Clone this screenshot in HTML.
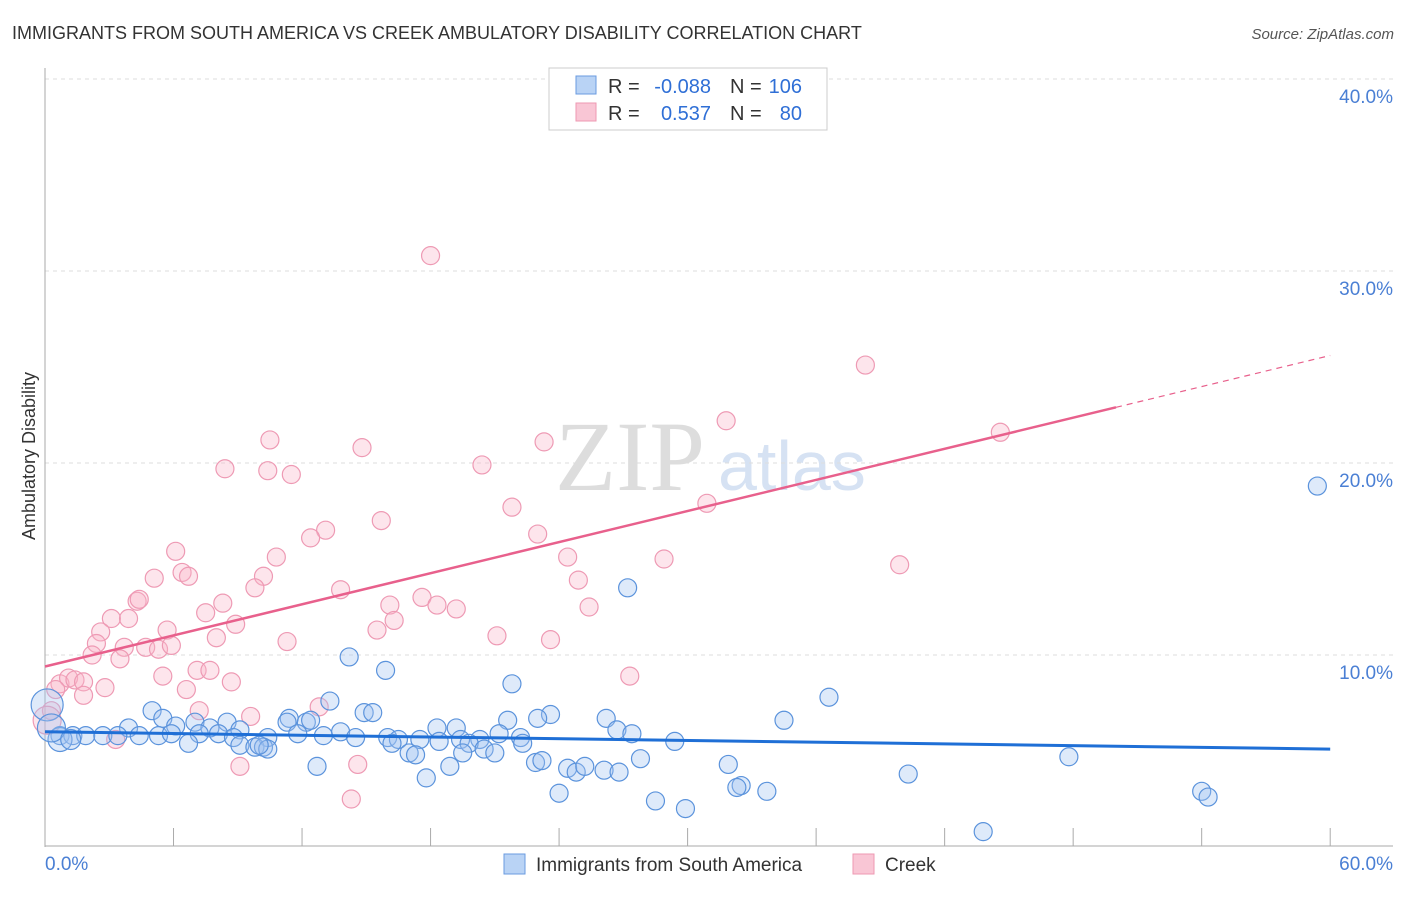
<!DOCTYPE html>
<html><head><meta charset="utf-8"><style>
body{margin:0;background:#fff;font-family:"Liberation Sans",sans-serif;}
svg text{font-family:"Liberation Sans",sans-serif;}
</style></head><body>
<svg width="1406" height="892">
<text x="12" y="39" font-size="18" fill="#333">IMMIGRANTS FROM SOUTH AMERICA VS CREEK AMBULATORY DISABILITY CORRELATION CHART</text>
<text x="1394" y="39" font-size="15" fill="#555" font-style="italic" text-anchor="end">Source: ZipAtlas.com</text>
<text x="35" y="456" font-size="18" fill="#333" transform="rotate(-90 35 456)" text-anchor="middle">Ambulatory Disability</text>
<text x="555" y="490" font-size="100" fill="#ddd" font-family="Liberation Serif" style="font-family:'Liberation Serif',serif">ZIP</text>
<text x="718" y="490" font-size="70" fill="#d6e2f3">atlas</text>
<g id="grid"></g><g id="axes"></g><g id="pts"></g><g id="trend"></g>
<g>
<rect x="549" y="68" width="278" height="62" fill="#fff" stroke="#ccc"/>
<rect x="576" y="76" width="20" height="18" fill="#b9d3f5" stroke="#6a9be0"/>
<rect x="576" y="103" width="20" height="18" fill="#f9c6d5" stroke="#ee98b2"/>
<text x="608" y="93" font-size="20" fill="#333">R =</text>
<text x="711" y="93" font-size="20" fill="#2f6fd6" text-anchor="end">-0.088</text>
<text x="730" y="93" font-size="20" fill="#333">N =</text>
<text x="802" y="93" font-size="20" fill="#2f6fd6" text-anchor="end">106</text>
<text x="608" y="120" font-size="20" fill="#333">R =</text>
<text x="711" y="120" font-size="20" fill="#2f6fd6" text-anchor="end">0.537</text>
<text x="730" y="120" font-size="20" fill="#333">N =</text>
<text x="802" y="120" font-size="20" fill="#2f6fd6" text-anchor="end">80</text>
</g>
<g>
<rect x="504" y="854" width="21" height="20" fill="#b9d3f5" stroke="#6a9be0"/>
<text x="536" y="871" font-size="19" fill="#333">Immigrants from South America</text>
<rect x="853" y="854" width="21" height="20" fill="#f9c6d5" stroke="#ee98b2"/>
<text x="885" y="871" font-size="19" fill="#333">Creek</text>
</g>
</svg>
<script>
const yTicks=[10,20,30,40];
const xTickVals=[0,6,12,18,24,30,36,42,48,54,60];
const blueX=[59.4,27.2,14.2,15.9,21.8,36.6,13.3,5.0,14.9,15.3,5.5,11.4,11.3,12.2,12.4,23.6,23.0,26.2,34.5,21.6,7.0,8.5,18.3,19.2,3.9,26.7,27.4,21.2,6.1,7.7,9.1,0.7,1.3,1.9,2.7,3.4,4.4,5.3,5.9,7.2,8.1,8.8,10.4,11.8,13.0,13.8,14.5,16.0,16.5,17.5,18.4,19.4,20.3,22.2,0.7,6.7,9.1,9.8,10.2,10.4,10.0,16.2,17.0,17.3,19.8,20.5,21.0,22.3,29.4,19.5,12.7,18.9,22.9,23.2,24.4,24.8,25.2,26.1,26.8,27.8,31.9,32.5,32.3,33.7,40.3,47.8,17.8,24.0,28.5,29.9,54.0,54.3,43.8,0.1,0.3,1.2];
const blueY=[18.8,13.5,9.9,9.2,8.5,7.8,7.6,7.1,7.0,7.0,6.7,6.7,6.5,6.5,6.6,6.9,6.7,6.7,6.6,6.6,6.5,6.5,6.2,6.2,6.2,6.1,5.9,5.9,6.3,6.2,6.1,5.8,5.8,5.8,5.8,5.8,5.8,5.8,5.9,5.9,5.9,5.7,5.7,5.9,5.8,6.0,5.7,5.7,5.6,5.6,5.5,5.6,5.6,5.7,5.6,5.4,5.3,5.2,5.2,5.1,5.3,5.4,4.9,4.8,5.4,5.1,4.9,5.4,5.5,4.9,4.2,4.2,4.4,4.5,4.1,3.9,4.2,4.0,3.9,4.6,4.3,3.2,3.1,2.9,3.8,4.7,3.6,2.8,2.4,2.0,2.9,2.6,0.8,7.4,6.2,5.6];
const blueR=[9,9,9,9,9,9,9,9,9,9,9,9,9,9,9,9,9,9,9,9,9,9,9,9,9,9,9,9,9,9,9,9,9,9,9,9,9,9,9,9,9,9,9,9,9,9,9,9,9,9,9,9,9,9,12,9,9,9,9,9,9,9,9,9,9,9,9,9,9,9,9,9,9,9,9,9,9,9,9,9,9,9,9,9,9,9,9,9,9,9,9,9,9,16,14,10];
const pinkX=[18.0,38.3,31.8,44.6,10.5,14.8,23.3,8.4,10.4,11.5,20.4,30.9,21.8,15.7,13.1,12.4,23.0,6.1,10.8,24.4,28.9,39.9,5.1,6.4,6.7,10.2,24.9,9.8,13.8,4.3,4.4,17.6,8.3,16.1,18.3,19.2,25.4,7.5,3.1,3.9,16.3,8.9,5.7,15.5,2.6,21.1,23.6,8.0,11.3,2.4,3.7,4.7,5.3,5.9,2.2,3.5,7.1,7.7,5.5,27.3,8.7,0.7,1.1,1.4,1.8,2.8,0.5,1.8,6.6,7.2,12.8,9.6,0.3,3.3,9.1,14.6,14.3,0.1];
const pinkY=[30.8,25.1,22.2,21.6,21.2,20.8,21.1,19.7,19.6,19.4,19.9,17.9,17.7,17.0,16.5,16.1,16.3,15.4,15.1,15.1,15.0,14.7,14.0,14.3,14.1,14.1,13.9,13.5,13.4,12.8,12.9,13.0,12.7,12.6,12.6,12.4,12.5,12.2,11.9,11.9,11.8,11.6,11.3,11.3,11.2,11.0,10.8,10.9,10.7,10.6,10.4,10.4,10.3,10.5,10.0,9.8,9.2,9.2,8.9,8.9,8.6,8.5,8.8,8.7,8.6,8.3,8.2,7.9,8.2,7.1,7.3,6.8,7.1,5.6,4.2,4.3,2.5,6.6];
const blueTrend=[6.0,5.1];
const pinkTrend=[9.4,25.6];
const X0=45,XS=21.42,Y0=847,YS=19.2;
const sx=v=>X0+v*XS, sy=v=>Y0-v*YS;
const NS='http://www.w3.org/2000/svg';
function mk(tag,at,parent){const e=document.createElementNS(NS,tag);for(const k in at)e.setAttribute(k,at[k]);document.getElementById(parent).appendChild(e);return e;}
yTicks.forEach(t=>{
  const l=mk('line',{x1:45,x2:1393,y1:sy(t),y2:sy(t),stroke:'#ddd','stroke-dasharray':'4,4'},'grid');
  
  
  const tx=mk('text',{x:1393,y:sy(t)+24,'font-size':19,fill:'#4a7fd4','text-anchor':'end'},'grid');
  tx.textContent=t.toFixed(1)+'%';
  
  
});
let a=mk('line',{x1:45,x2:45,y1:68,y2:847,stroke:'#aaa'},'axes');


a=mk('line',{x1:45,x2:1393,y1:846,y2:846,stroke:'#aaa'},'axes');


xTickVals.forEach(t=>{
  const l=mk('line',{x1:sx(t),x2:sx(t),y1:828,y2:846,stroke:'#aaa'},'axes');
  
  
});
[[0,45,'start'],[60,1393,'end']].forEach(([v,x,an])=>{
  const tx=mk('text',{x:x,y:870,'font-size':19,fill:'#4a7fd4','text-anchor':an},'axes');
  tx.textContent=v.toFixed(1)+'%';
  
  
});
pinkX.forEach((x,i)=>{
  const c=mk('circle',{cx:sx(x),cy:sy(pinkY[i]),r:i==pinkX.length-1?14:9,fill:'rgba(248,180,200,0.35)',stroke:'#ee9ab4','stroke-width':1.2},'pts');
  
  
});
blueX.forEach((x,i)=>{
  const c=mk('circle',{cx:sx(x),cy:sy(blueY[i]),r:blueR[i],fill:'rgba(160,195,240,0.35)',stroke:'#5b93dc','stroke-width':1.2},'pts');
  
  
});
let t=mk('line',{x1:sx(0),y1:sy(blueTrend[0]),x2:sx(60),y2:sy(blueTrend[1]),stroke:'#1f6fd6','stroke-width':3},'trend');


const pAt=v=>pinkTrend[0]+(pinkTrend[1]-pinkTrend[0])*v/60;
t=mk('line',{x1:sx(0),y1:sy(pAt(0)),x2:sx(50),y2:sy(pAt(50)),stroke:'#e8608c','stroke-width':2.5},'trend');


t=mk('line',{x1:sx(50),y1:sy(pAt(50)),x2:sx(60),y2:sy(pAt(60)),stroke:'#e8608c','stroke-width':1.2,'stroke-dasharray':'6,5'},'trend');


</script>
</body></html>
